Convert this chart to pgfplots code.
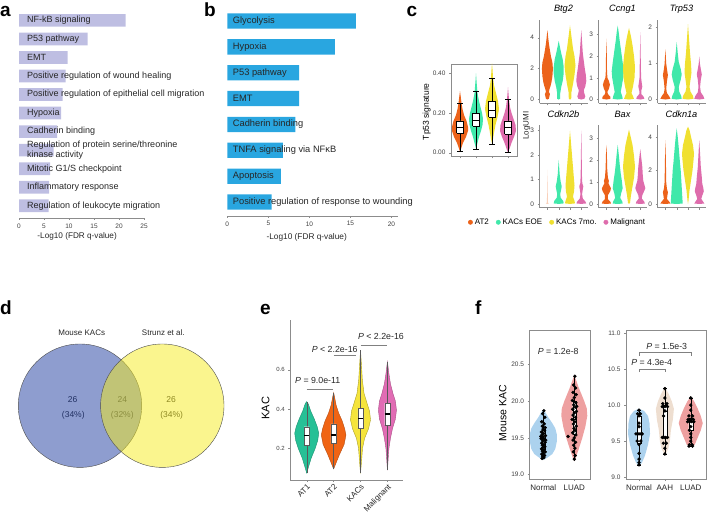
\documentclass[border=0pt]{standalone}
\usepackage{fontspec}
\setmainfont{Liberation Sans}
\usepackage{pgfplots}
\pgfplotsset{compat=1.18}

\newcommand{\fs}[1]{\fontsize{#1}{#1}\selectfont}

\definecolor{barA}{RGB}{190,190,226}
\definecolor{barB}{RGB}{41,166,224}
\definecolor{cAT2}{RGB}{236,98,26}
\definecolor{cEOE}{RGB}{64,232,170}
\definecolor{cSEV}{RGB}{240,224,48}
\definecolor{cMAL}{RGB}{222,108,172}
\definecolor{eAT1}{RGB}{38,192,150}
\definecolor{eAT2}{RGB}{240,100,20}
\definecolor{eKAC}{RGB}{245,228,60}
\definecolor{eMAL}{RGB}{225,108,180}
\definecolor{vBlue}{RGB}{30,60,160}
\definecolor{vYel}{RGB}{245,235,30}
\definecolor{fBlue}{RGB}{172,210,238}
\definecolor{fPink}{RGB}{238,160,160}
\definecolor{fBeige}{RGB}{238,222,208}

% violin: #1 centre, #2 units per px, #3 style, #4 list y/halfwidth(px)
\newcommand{\violin}[4]{%
  \gdef\vR{}\gdef\vL{}%
  \foreach \yy/\ww in {#4}{%
    \pgfmathsetmacro\xr{#1+#2*\ww}%
    \pgfmathsetmacro\xl{#1-#2*\ww}%
    \xdef\vR{\vR(\xr,\yy)}%
    \xdef\vL{(\xl,\yy)\vL}%
  }%
  \edef\temp{\noexpand\addplot[forget plot,#3] coordinates {\vR\vL};}%
  \temp
}
% box: #1 pos, #2 half width, #3 lower whisker, #4 q1, #5 median, #6 q3, #7 upper whisker, #8 cap half width, #9 style
\def\bxmed{}
\newcommand{\bx}[9]{%
  \pgfmathsetmacro\bxL{#1-#2}\pgfmathsetmacro\bxR{#1+#2}%
  \pgfmathsetmacro\cpL{#1-#8}\pgfmathsetmacro\cpR{#1+#8}%
  \edef\temp{%
    \noexpand\addplot[forget plot,#9] coordinates {(#1,#3) (#1,#4)};%
    \noexpand\addplot[forget plot,#9] coordinates {(#1,#6) (#1,#7)};%
    \noexpand\addplot[forget plot,#9] coordinates {(\cpL,#3) (\cpR,#3)};%
    \noexpand\addplot[forget plot,#9] coordinates {(\cpL,#7) (\cpR,#7)};%
    \noexpand\addplot[forget plot,#9,fill=white] coordinates {(\bxL,#4) (\bxR,#4) (\bxR,#6) (\bxL,#6) (\bxL,#4)};%
    \noexpand\addplot[forget plot,#9,\bxmed] coordinates {(\bxL,#5) (\bxR,#5)};%
  }\temp}

\pgfplotsset{
  base/.style={scale only axis, anchor=south west, clip=false,
    axis line style={draw=black!45, line width=0.5pt},
    tick style={draw=black!45, line width=0.4pt},
    major tick length=2pt, tick align=outside,
    tick label style={font=\fs{6.5}, text=black!75}},
  sv/.style={base, width=48pt, height=83pt, xmin=0.3, xmax=4.55,
    axis lines*=left, xtick={1,2,3,4}, xticklabels={},
    title style={font=\fs{9.2}\itshape, at={(axis description cs:0.5,1)}, anchor=south, inner sep=0pt, yshift=1pt}},
}

\begin{document}
\begin{tikzpicture}[x=1pt,y=1pt]
\path[use as bounding box] (0,0) rectangle (708,513);

% ---------------- panel letters
\node[anchor=base west, font=\fs{19}\bfseries, inner sep=0pt] at (0,496.3) {a};
\node[anchor=base west, font=\fs{19}\bfseries, inner sep=0pt] at (204,496.3) {b};
\node[anchor=base west, font=\fs{19}\bfseries, inner sep=0pt] at (406.5,496.3) {c};
\node[anchor=base west, font=\fs{19}\bfseries, inner sep=0pt] at (0,198) {d};
\node[anchor=base west, font=\fs{19}\bfseries, inner sep=0pt] at (260,198) {e};
\node[anchor=base west, font=\fs{19}\bfseries, inner sep=0pt] at (475,198) {f};

% ---------------- panel a
\begin{axis}[base, at={(19pt,295pt)}, width=125pt, height=210.6pt, axis on top,
  xmin=0, xmax=25, ymin=0.34, ymax=11.7,
  axis x line*=bottom, axis y line*=left, y axis line style={draw=none},
  ytick={1,...,11}, ytick style={draw=none},
  yticklabels={Regulation of leukocyte migration, Inflammatory response, Mitotic G1/S checkpoint,
    {Regulation of protein serine/threonine\\kinase activity}, Cadherin binding, Hypoxia,
    Positive regulation of epithelial cell migration, Positive regulation of wound healing,
    EMT, P53 pathway, NF-kB signaling},
  yticklabel style={anchor=west, xshift=10pt, font=\fontsize{9}{7}\selectfont, text=black!85, align=left, inner sep=0pt},
  xtick={0,5,10,15,20,25}, xticklabels={0,5,10,15,20,25},
  xlabel={-Log10 (FDR q-value)},
  xlabel style={at={(axis description cs:0.465,-0.0855)}, anchor=center, font=\fs{8.2}, inner sep=0pt, text=black!85}]
\addplot[xbar, bar width=12.7pt, fill=barA, draw=none] coordinates {
 (21.3,11) (13.7,10) (9.7,9) (9.3,8) (8.7,7) (8.4,6) (7.6,5) (6.9,4) (6.2,3) (6.0,2) (5.9,1)};
\end{axis}

% ---------------- panel b
\begin{axis}[base, at={(227.3pt,297pt)}, width=170.7pt, height=207.9pt, axis on top,
  xmin=0, xmax=20.8, ymin=0.46, ymax=8.5,
  axis x line*=bottom, axis y line*=left, y axis line style={draw=none},
  ytick={1,...,8}, ytick style={draw=none},
  yticklabels={Positive regulation of response to wounding, Apoptosis, TNFA signaling via NFκB,
    Cadherin binding, EMT, P53 pathway, Hypoxia, Glycolysis},
  yticklabel style={anchor=west, xshift=7.4pt, font=\fs{9.3}, text=black!85, inner sep=0pt},
  xtick={0,5,10,15,20}, xticklabels={0,5,10,15,20},
  xlabel={-Log10 (FDR q-value)},
  xlabel style={at={(axis description cs:0.465,-0.101)}, anchor=center, font=\fs{8.3}, inner sep=0pt, text=black!85}]
\addplot[xbar, bar width=15.3pt, fill=barB, draw=none] coordinates {
 (15.66,8) (13.1,7) (8.76,6) (8.76,5) (8.3,4) (6.78,3) (6.53,2) (5.4,1)};
\end{axis}

% ---------------- panel c : Tp53 signature
\begin{axis}[base, at={(451pt,356.5pt)}, width=66pt, height=92.5pt,
  xmin=0.4375, xmax=4.5625, ymin=-0.019, ymax=0.447,
  tick pos=left, xtick={1,2,3,4}, xticklabels={},
  ytick={0,0.2,0.4}, yticklabels={0.00,0.20,0.40},
  ylabel={Tp53 signature},
  ylabel style={at={(axis description cs:-0.368,0.484)}, anchor=center, font=\fs{8.5}, inner sep=0pt},
  legend columns=4,
  legend style={at={(axis description cs:1.614,-0.711)}, anchor=center, draw=none, fill=none,
    font=\fs{8}, inner sep=0pt, /tikz/every even column/.append style={column sep=5pt}},
  legend image code/.code={\fill[#1] (0pt,0pt) circle (2.2pt);}]
\violin{1}{0.0625}{fill=cAT2, draw=none}{0.005/0, 0.02/1, 0.05/3, 0.08/6, 0.11/8, 0.13/8, 0.16/6.5, 0.19/4, 0.22/2.5, 0.25/1.5, 0.28/0.8, 0.31/0}
\violin{2}{0.0625}{fill=cEOE, draw=none}{0.02/0, 0.05/1.5, 0.08/3, 0.11/5, 0.14/6.5, 0.17/7, 0.20/6, 0.23/4.5, 0.26/3, 0.30/1.5, 0.35/0.7, 0.40/0}
\violin{3}{0.0625}{fill=cSEV, draw=none}{0.045/0, 0.07/1, 0.10/2, 0.14/3.5, 0.18/5.5, 0.22/7, 0.26/6, 0.30/4, 0.34/2, 0.38/1, 0.42/0.5, 0.45/0}
\violin{4}{0.0625}{fill=cMAL, draw=none}{0/0, 0.02/1.5, 0.05/3.5, 0.08/6, 0.11/8, 0.14/7.5, 0.17/5.5, 0.20/3.5, 0.23/2, 0.27/1, 0.30/0.5, 0.33/0}
\def\bxmed{line width=0.7pt}
\bx{1}{0.21}{0.008}{0.10}{0.13}{0.16}{0.25}{0.16}{draw=black, line width=0.45pt}
\bx{2}{0.21}{0.02}{0.135}{0.165}{0.20}{0.31}{0.16}{draw=black, line width=0.45pt}
\bx{3}{0.21}{0.045}{0.18}{0.215}{0.26}{0.375}{0.16}{draw=black, line width=0.45pt}
\bx{4}{0.21}{0.0}{0.095}{0.128}{0.16}{0.27}{0.16}{draw=black, line width=0.45pt}
\addlegendimage{cAT2}\addlegendentry{AT2}
\addlegendimage{cEOE}\addlegendentry{KACs EOE}
\addlegendimage{cSEV}\addlegendentry{KACs 7mo.}
\addlegendimage{cMAL}\addlegendentry{Malignant}
\end{axis}

% ---------------- panel c : small violins, row 1
\begin{axis}[sv, at={(539.5pt,409.7pt)}, ymin=-0.244, ymax=5.13, ytick={0,2,4}, yticklabels={0,2,4}, title={Btg2}]
\violin{1}{0.0886}{fill=cAT2, draw=none}{0/0, 0.05/1.5, 0.2/2, 0.35/2.5, 0.5/1.5, 0.65/2, 0.85/3, 1.1/4, 1.5/5, 2.0/5.5, 2.4/5, 2.8/3.5, 3.2/2.5, 3.6/1.5, 4.0/0.8, 4.5/0}
\violin{2}{0.0886}{fill=cEOE, draw=none}{0/0, 0.05/1.5, 0.4/1.5, 0.8/2.5, 1.2/4, 1.7/5, 2.1/5, 2.6/4, 3.0/2.5, 3.4/1.2, 3.8/0}
\violin{3}{0.0886}{fill=cSEV, draw=none}{0/0, 0.05/1.2, 0.5/1.5, 1.0/3, 1.6/4.5, 2.2/5.5, 2.8/4.5, 3.3/3, 3.8/2, 4.3/1, 4.8/0}
\violin{4}{0.0886}{fill=cMAL, draw=none}{0/0, 0.05/3, 0.2/4, 0.4/3, 0.6/2.5, 0.85/4, 1.2/5, 1.6/4.5, 2.0/3.5, 2.5/2.5, 3.0/1.5, 3.7/0.8, 4.5/0}
\node[rotate=90, font=\fs{8}, text=black!85] at (axis description cs:-0.267,-0.27) {LogUMI};
\end{axis}
\begin{axis}[sv, at={(598.5pt,409.7pt)}, ymin=-0.174, ymax=3.65, ytick={0,1,2,3}, yticklabels={0,1,2,3}, title={Ccng1}]
\violin{1}{0.0886}{fill=cAT2, draw=none}{0/0, 0.03/4, 0.12/4, 0.25/1.5, 0.35/1, 0.5/2.5, 0.68/3.5, 0.85/2.5, 1.0/1, 1.3/0.6, 2.0/0.4, 2.8/0}
\violin{2}{0.0886}{fill=cEOE, draw=none}{0/0, 0.03/5, 0.15/4.5, 0.35/3, 0.6/4, 1.0/5.5, 1.3/6, 1.7/5, 2.2/3.5, 2.7/2, 3.1/1, 3.4/0}
\violin{3}{0.0886}{fill=cSEV, draw=none}{0/0, 0.03/5, 0.15/4, 0.3/2.5, 0.6/4, 1.0/5.5, 1.5/6, 2.0/5, 2.5/3.5, 2.9/2, 3.3/0}
\violin{4}{0.0886}{fill=cMAL, draw=none}{0/0, 0.03/4, 0.12/3.5, 0.25/1, 0.4/1, 0.6/2, 0.75/1.5, 1.0/0.8, 2.0/0.4, 3.1/0}
\end{axis}
\begin{axis}[sv, at={(657.5pt,409.7pt)}, ymin=-0.105, ymax=2.205, ytick={0,1,2}, yticklabels={0,1,2}, title={Trp53}]
\violin{1}{0.0886}{fill=cAT2, draw=none}{0/0, 0.02/5, 0.08/4, 0.18/1.5, 0.3/0.8, 0.5/1.5, 0.68/2.5, 0.85/1.5, 1.0/0.8, 1.4/0}
\violin{2}{0.0886}{fill=cEOE, draw=none}{0/0, 0.02/5, 0.1/4.5, 0.22/2.5, 0.35/2, 0.55/4, 0.7/5, 0.85/4, 1.05/2, 1.3/1, 1.6/0}
\violin{3}{0.0886}{fill=cSEV, draw=none}{0/0, 0.02/5.5, 0.1/5, 0.22/2.5, 0.35/1.5, 0.55/2.5, 0.75/3.5, 1.0/3, 1.3/2, 1.7/1, 2.1/0}
\violin{4}{0.0886}{fill=cMAL, draw=none}{0/0, 0.02/5, 0.1/4, 0.2/1.5, 0.35/0.8, 0.55/1.5, 0.7/2.5, 0.85/1.5, 1.0/0.6, 1.2/0}
\end{axis}

% ---------------- panel c : small violins, row 2
\begin{axis}[sv, at={(539.5pt,305.3pt)}, ymin=-0.155, ymax=3.245, ytick={0,1,2,3}, yticklabels={0,1,2,3}, title={Cdkn2b}]
\violin{1}{0.0886}{fill=cAT2, draw=none, fill opacity=0.3}{0/0, 0.02/1.5, 0.06/0.5, 0.5/0.3, 1.4/0}
\violin{2}{0.0886}{fill=cEOE, draw=none}{0/0, 0.02/5, 0.12/4.5, 0.25/2, 0.4/1.5, 0.6/2.5, 0.72/3, 0.9/2, 1.2/1, 1.8/0}
\violin{3}{0.0886}{fill=cSEV, draw=none}{0/0, 0.02/5, 0.12/4.5, 0.3/3, 0.5/4, 0.75/4.5, 1.0/4, 1.5/3, 2.0/2, 2.5/1, 3.0/0}
\violin{4}{0.0886}{fill=cMAL, draw=none}{0/0, 0.02/5, 0.1/4, 0.22/1.5, 0.4/0.8, 0.6/1.5, 0.72/2, 0.85/1, 1.2/0.6, 2.0/0.4, 3.0/0}
\end{axis}
\begin{axis}[sv, at={(598.5pt,305.3pt)}, ymin=-0.17, ymax=3.62, ytick={0,1,2,3}, yticklabels={0,1,2,3}, title={Bax}]
\violin{1}{0.0886}{fill=cAT2, draw=none}{0/0, 0.02/4.5, 0.1/4, 0.22/1.5, 0.4/1.5, 0.6/4, 0.72/4.5, 0.85/3, 0.95/2, 1.05/2.5, 1.2/1.5, 1.6/0.8, 2.2/0.5, 2.7/0}
\violin{2}{0.0886}{fill=cEOE, draw=none}{0/0, 0.02/5, 0.12/4.5, 0.28/2.5, 0.5/3.5, 0.72/5, 0.9/4.5, 1.1/4, 1.4/3, 1.8/2, 2.2/1.2, 2.7/0}
\violin{3}{0.0886}{fill=cSEV, draw=none}{0/0, 0.05/1, 0.4/2, 0.8/3.5, 1.2/5, 1.7/6, 2.2/5, 2.7/3.5, 3.1/1.5, 3.4/0}
\violin{4}{0.0886}{fill=cMAL, draw=none}{0/0, 0.02/4.5, 0.1/4, 0.25/1.5, 0.4/2, 0.6/4, 0.72/5, 0.9/4, 1.05/3, 1.3/2.5, 1.7/2, 2.1/1, 2.5/0}
\end{axis}
\begin{axis}[sv, at={(657.5pt,305.3pt)}, ymin=-0.225, ymax=4.72, ytick={0,2,4}, yticklabels={0,2,4}, title={Cdkn1a}]
\violin{1}{0.0886}{fill=cAT2, draw=none}{0/0, 0.02/5, 0.12/4, 0.3/1.5, 0.5/2, 0.7/2.5, 0.9/1.5, 1.3/0.8, 2.5/0.5, 3.8/0}
\violin{2}{0.0886}{fill=cEOE, draw=none}{0/0, 0.02/6, 0.5/5.5, 1.0/5, 1.5/4.5, 2.0/4, 2.5/3.2, 3.0/2.5, 3.5/1.8, 4.0/1, 4.5/0}
\violin{3}{0.0886}{fill=cSEV, draw=none}{0/0, 0.2/0.5, 0.8/1.5, 1.4/3, 2.0/4.5, 2.6/5.5, 3.0/6, 3.5/5, 4.0/3, 4.4/1.5, 4.6/0}
\violin{4}{0.0886}{fill=cMAL, draw=none}{0/0, 0.02/5, 0.12/4, 0.3/2, 0.5/3, 0.75/4.5, 0.95/4, 1.2/3, 1.6/2.5, 2.2/1.5, 3.0/0.8, 3.8/0}
\end{axis}

% ---------------- panel d : Venn
\begin{axis}[at={(10pt,30pt)}, anchor=south west, scale only axis, width=230pt, height=160pt,
  xmin=10, xmax=240, ymin=30, ymax=190, hide axis, clip=false]
\addplot[only marks, mark=*, mark size=61.7pt, mark options={fill=vBlue, fill opacity=0.5, draw=black!70, line width=0.4pt}] coordinates {(80,107.3)};
\addplot[only marks, mark=*, mark size=61.7pt, mark options={fill=vYel, fill opacity=0.5, draw=black!70, line width=0.4pt}] coordinates {(162.3,107.3)};
\node[font=\fs{8}, text=black!85] at (axis cs:81.7,180.3) {Mouse KACs};
\node[font=\fs{8}, text=black!85] at (axis cs:163.3,180.3) {Strunz et al.};
\node[font=\fs{8.5}, text=black!85] at (axis cs:72.7,113.7) {26};
\node[font=\fs{8.5}, text=black!85] at (axis cs:73.3,98) {(34\%)};
\node[font=\fs{8.5}, text=black!85] at (axis cs:122.3,113.7) {24};
\node[font=\fs{8.5}, text=black!85] at (axis cs:122.3,98) {(32\%)};
\node[font=\fs{8.5}, text=black!85] at (axis cs:171,113.7) {26};
\node[font=\fs{8.5}, text=black!85] at (axis cs:171.7,98) {(34\%)};
\end{axis}

% ---------------- panel e
\begin{axis}[base, at={(290.3pt,33pt)}, width=113pt, height=160pt,
  xmin=0.39, xmax=4.59, ymin=0.038, ymax=0.855, axis lines*=left,
  xtick={1,2,3,4}, xticklabels={AT1,AT2,KACs,Malignant},
  xticklabel style={rotate=45, anchor=north east, font=\fs{8}, inner sep=1pt, text=black!85},
  ytick={0.2,0.4,0.6}, yticklabels={0.2,0.4,0.6}, yticklabel style={font=\fs{6}},
  ylabel={KAC}, ylabel style={at={(axis description cs:-0.218,0.448)}, anchor=center, font=\fs{11}, inner sep=0pt}]
\violin{1}{0.0372}{fill=eAT1, draw=eAT1!75!black, line width=0.4pt}{0.072/0, 0.10/1.5, 0.15/4.5, 0.20/8.5, 0.24/11, 0.277/12, 0.31/10.5, 0.35/7.5, 0.39/4, 0.42/2, 0.43/1.2, 0.438/0}
\violin{2}{0.0372}{fill=eAT2, draw=eAT2!75!black, line width=0.4pt}{0.094/0, 0.12/2, 0.17/6, 0.22/10.5, 0.268/12.3, 0.30/11, 0.34/8.5, 0.38/5, 0.42/2.5, 0.46/1, 0.484/0}
\violin{3}{0.0372}{fill=eKAC, draw=eKAC!70!black, line width=0.4pt}{0.072/0, 0.12/0.8, 0.20/2, 0.25/4, 0.30/8, 0.345/10, 0.39/9, 0.43/6.5, 0.48/3.5, 0.55/1.8, 0.62/1, 0.70/0}
\violin{4}{0.0372}{fill=eMAL, draw=eMAL!75!black, line width=0.4pt}{0.089/0, 0.15/0.8, 0.20/1.5, 0.25/3, 0.30/5, 0.35/8, 0.395/9, 0.44/8, 0.48/5.5, 0.53/3, 0.58/1.5, 0.642/0}
\def\bxmed{draw=black, line width=1.1pt}
\bx{1}{0.1}{0.072}{0.217}{0.264}{0.31}{0.438}{0}{draw=black!65, line width=0.4pt}
\bx{2}{0.1}{0.094}{0.225}{0.268}{0.324}{0.484}{0}{draw=black!65, line width=0.4pt}
\bx{3}{0.1}{0.072}{0.302}{0.35}{0.404}{0.70}{0}{draw=black!65, line width=0.4pt}
\bx{4}{0.1}{0.089}{0.319}{0.375}{0.43}{0.642}{0}{draw=black!65, line width=0.4pt}
\addplot[black!50, line width=0.5pt] coordinates {(1,0.5026) (1.97,0.5026)};
\addplot[black!50, line width=0.5pt] coordinates {(2,0.674) (2.83,0.674)};
\addplot[black!50, line width=0.5pt] coordinates {(3,0.726) (4,0.726)};
\node[font=\fs{8.8}, text=black!85] at (axis cs:1.41,0.548) {\textit{P} = 9.0e-11};
\node[font=\fs{8.8}, text=black!85] at (axis cs:2.04,0.705) {\textit{P} < 2.2e-16};
\node[font=\fs{8.8}, text=black!85] at (axis cs:3.76,0.769) {\textit{P} < 2.2e-16};
\end{axis}

% ---------------- panel f : left
\begin{axis}[base, at={(529.5pt,34pt)}, width=60.5pt, height=149pt,
  xmin=0.555, xmax=2.507, ymin=18.94, ymax=20.97, tick pos=left,
  xtick={1,2}, xticklabels={Normal,LUAD}, xticklabel style={font=\fs{8}, text=black!85},
  ytick={19,19.5,20,20.5}, yticklabels={19.0,19.5,20.0,20.5},
  ylabel={Mouse KAC}, ylabel style={at={(axis description cs:-0.443,0.441)}, anchor=center, font=\fs{10.5}, inner sep=0pt}]
\violin{1}{0.03226}{fill=fBlue, draw=none}{19.20/0, 19.23/4, 19.28/9, 19.35/12, 19.45/13.5, 19.55/13.5, 19.63/12, 19.70/9, 19.78/5, 19.85/2, 19.88/0}
\violin{2}{0.03226}{fill=fPink, draw=none}{19.18/0, 19.25/2, 19.35/4.5, 19.5/8, 19.65/11, 19.8/13, 19.9/12.5, 20.0/10, 20.1/7, 20.2/4, 20.3/1.5, 20.35/0}
\def\bxmed{}
\bx{1}{0.05}{19.22}{19.35}{19.5}{19.62}{19.87}{0}{draw=black, line width=0.35pt}
\bx{2}{0.05}{19.21}{19.55}{19.75}{20.0}{20.34}{0}{draw=black, line width=0.35pt}
\addplot[only marks, mark=*, mark size=1.5pt, black] coordinates {
 (1.02,19.87) (0.98,19.83) (1.05,19.78) (0.95,19.72) (1.03,19.69) (0.97,19.66) (1.06,19.64) (0.99,19.62)
 (1.04,19.60) (0.94,19.58) (1.01,19.56) (0.96,19.54) (1.07,19.53) (1.00,19.51) (0.93,19.49) (1.04,19.48)
 (0.98,19.46) (1.06,19.44) (0.95,19.43) (1.02,19.41) (0.97,19.40) (1.05,19.38) (0.99,19.37) (0.94,19.35)
 (1.03,19.34) (0.97,19.32) (1.06,19.31) (1.00,19.29) (0.95,19.28) (1.04,19.26) (0.98,19.25) (1.02,19.23)
 (0.96,19.22) (1.08,19.47) (0.92,19.52)};
\addplot[only marks, mark=*, mark size=1.5pt, black] coordinates {
 (2.02,20.34) (1.98,20.22) (2.04,20.18) (1.96,20.12) (2.06,20.09) (2.00,20.05) (1.94,20.01) (2.05,19.98)
 (1.98,19.95) (2.03,19.92) (1.95,19.89) (2.07,19.86) (2.00,19.84) (1.96,19.81) (2.04,19.78) (1.93,19.75)
 (2.02,19.72) (1.97,19.69) (2.06,19.66) (1.99,19.63) (2.03,19.60) (1.95,19.57) (2.05,19.54) (2.00,19.50)
 (1.96,19.47) (2.04,19.44) (1.98,19.40) (2.02,19.36) (1.97,19.31) (2.03,19.26) (2.00,19.21) (1.80,19.52)
 (2.08,19.93)};
\node[font=\fs{8.8}, text=black!85] at (axis cs:1.48,20.677) {\textit{P} = 1.2e-8};
\end{axis}

% ---------------- panel f : right
\begin{axis}[base, at={(626pt,34pt)}, width=80pt, height=149pt,
  xmin=0.497, xmax=3.59, ymin=8.972, ymax=11.046, tick pos=left,
  xtick={1,2,3}, xticklabels={Normal,AAH,LUAD}, xticklabel style={font=\fs{8}, text=black!85},
  ytick={9,9.5,10,10.5,11}, yticklabels={9.0,9.5,10.0,10.5,11.0}]
\violin{1}{0.0387}{fill=fBlue, draw=none}{9.15/0, 9.2/3, 9.3/6, 9.45/9, 9.6/11, 9.75/10.5, 9.85/9, 9.92/5, 9.95/0}
\violin{2}{0.0387}{fill=fBeige, draw=none}{9.30/0, 9.4/3.5, 9.5/5, 9.65/6, 9.8/8, 9.95/9, 10.05/7, 10.15/4, 10.25/0}
\violin{3}{0.0387}{fill=fPink, draw=none}{9.42/0, 9.45/4, 9.55/7, 9.65/10, 9.75/12, 9.85/10, 9.95/7, 10.05/3.5, 10.12/0}
\def\bxmed{}
\bx{1}{0.08}{9.17}{9.47}{9.60}{9.85}{9.93}{0.08}{draw=black, line width=0.35pt}
\bx{2}{0.08}{9.32}{9.55}{9.92}{10.0}{10.23}{0.08}{draw=black, line width=0.35pt}
\bx{3}{0.08}{9.43}{9.65}{9.77}{9.82}{10.10}{0.08}{draw=black, line width=0.35pt}
\addplot[only marks, mark=*, mark size=1.5pt, black] coordinates {
 (1,9.93) (0.95,9.88) (1.05,9.88) (1,9.85) (1,9.75) (1,9.70) (0.88,9.60) (0.96,9.60) (1.04,9.60) (1.12,9.60)
 (0.93,9.50) (1.07,9.50) (1,9.45) (1,9.33) (1,9.25) (1,9.20) (1,9.17)};
\addplot[only marks, mark=*, mark size=1.5pt, black] coordinates {
 (2,10.23) (2,10.10) (1.92,10.02) (2.08,10.02) (1.9,9.98) (2.0,9.98) (2.1,9.98) (2.0,9.92) (1.95,9.85)
 (1.9,9.55) (1.97,9.55) (2.03,9.55) (2.1,9.55) (1.94,9.47) (2.06,9.47) (2.0,9.40) (2.0,9.32)};
\addplot[only marks, mark=*, mark size=1.5pt, black] coordinates {
 (3,10.10) (3,10.00) (3,9.93) (2.93,9.85) (3.07,9.85) (2.9,9.80) (3.0,9.80) (3.1,9.80) (2.88,9.77) (2.96,9.77)
 (3.04,9.77) (3.12,9.77) (3.0,9.70) (2.95,9.65) (3.0,9.60) (3.0,9.55) (3.0,9.50) (2.95,9.45) (3.05,9.45)
 (2.93,9.43) (3.07,9.43)};
\addplot[black!50, line width=0.5pt] coordinates {(1,10.69) (1,10.736) (3,10.736) (3,10.69)};
\addplot[black!50, line width=0.5pt] coordinates {(1,10.46) (1,10.503) (2,10.503) (2,10.46)};
\node[font=\fs{8.8}, text=black!85] at (axis cs:2.07,10.82) {\textit{P} = 1.5e-3};
\node[font=\fs{8.8}, text=black!85] at (axis cs:1.49,10.59) {\textit{P} = 4.3e-4};
\end{axis}
\end{tikzpicture}
\end{document}
